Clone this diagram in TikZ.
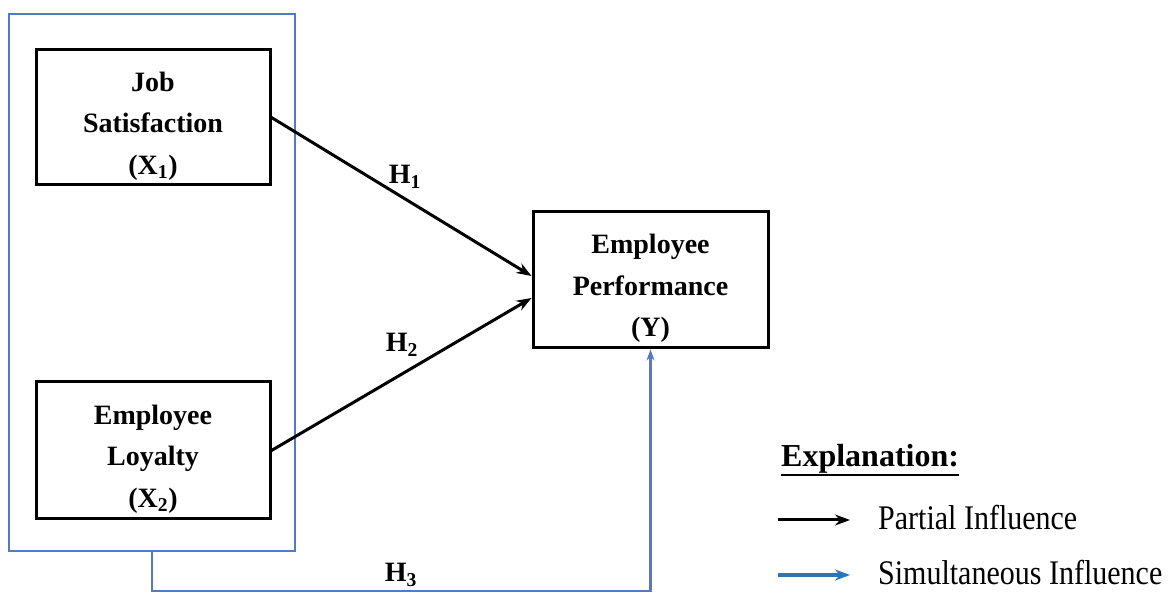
\documentclass[tikz,border=0pt]{standalone}
\usepackage{fontspec}
\setmainfont{Liberation Serif}
\usetikzlibrary{arrows.meta}
\definecolor{frameblue}{RGB}{84,122,196}
\definecolor{legblue}{RGB}{46,117,182}
\newcommand{\toppad}{\rule{0pt}{36pt}}
\tikzset{
  varbox/.style={draw=black, line width=3pt, align=center, inner sep=0pt,
    font=\fontsize{28}{41.5}\selectfont\bfseries},
  groupbox/.style={draw=frameblue, line width=2.2pt, inner sep=0pt},
  partarrow/.style={draw=black, line width=3pt, -{Stealth[length=15pt,width=11pt]}},
  simarrow/.style={draw=frameblue, line width=2.2pt, -{Stealth[length=11pt,width=8pt]}},
  hlabel/.style={font=\fontsize{28}{32}\selectfont\bfseries, inner sep=0pt},
  legtext/.style={font=\fontsize{30}{36}\selectfont, anchor=base west, inner sep=0pt},
}
\begin{document}
\begin{tikzpicture}[x=1pt, y=-1pt]
\useasboundingbox[fill=white] (0,0) rectangle (1171,593);

\node[groupbox, minimum width=286pt, minimum height=537pt] (group) at (152,282.5) {};

\node[varbox, minimum width=234pt, minimum height=135pt] (x1) at (153,117.5)
  {\toppad Job\\Satisfaction\\(X\textsubscript{1})};
\node[varbox, minimum width=234pt, minimum height=137pt] (x2) at (153,450.5)
  {\toppad Employee\\Loyalty\\(X\textsubscript{2})};
\node[varbox, minimum width=235pt, minimum height=136pt] (y) at (650.5,280)
  {\toppad Employee\\Performance\\(Y)};

\draw[partarrow] (x1.east) -- ([yshift=4pt]y.west);
\draw[partarrow] (x2.east) -- ([yshift=-18pt]y.west);
\draw[simarrow] (group.south) -- ++(0,39) coordinate (bend) -| (y.south);

\node[hlabel] (h1) at (405,177) {H\textsubscript{1}};
\node[hlabel] (h2) at (402,345) {H\textsubscript{2}};
\node[hlabel] (h3) at (401,575) {H\textsubscript{3}};

% legend
\node[font=\fontsize{32}{36}\selectfont\bfseries, anchor=base west, inner sep=0pt] (expl) at (781,467) {Explanation:};
\draw[line width=2.5pt] ([yshift=-1pt]expl.south west) -- ([yshift=-1pt]expl.south east);

\coordinate (la1) at (778,520);
\coordinate (lb1) at (850,520);
\draw[partarrow] (la1) -- (lb1);
\node[legtext] (pi) at (878,530) {\scalebox{1}[1.15]{Partial Influence}};

\coordinate (la2) at (778,575);
\coordinate (lb2) at (850,575);
\draw[draw=legblue, line width=3pt, -{Stealth[length=15pt,width=11pt]}] (la2) -- (lb2);
\node[legtext] (si) at (878,584) {\scalebox{1}[1.15]{Simultaneous Influence}};
\end{tikzpicture}
\end{document}
